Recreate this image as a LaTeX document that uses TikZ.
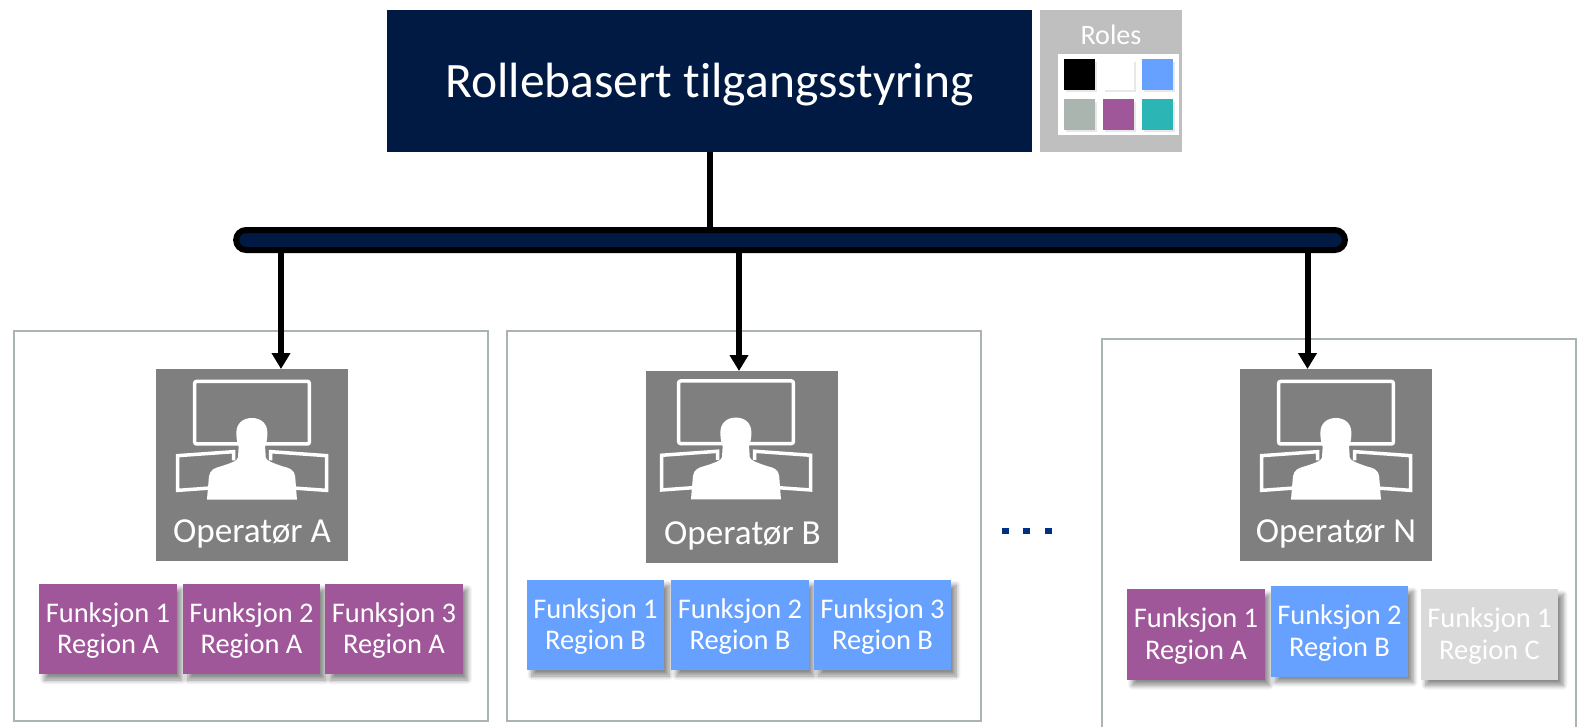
\documentclass[tikz,border=0pt]{standalone}
\usepackage{fontspec}
\setmainfont{Carlito}[Ligatures=NoCommon]
\usetikzlibrary{arrows.meta,shadows,shadows.blur}
\definecolor{navy}{HTML}{001A44}
\definecolor{dotblue}{HTML}{002F87}
\definecolor{opgray}{HTML}{7F7F7F}
\definecolor{rolegray}{HTML}{BFBFBF}
\definecolor{sage}{HTML}{AAB5B0}
\definecolor{plum}{HTML}{9F5799}
\definecolor{sky}{HTML}{66A1FF}
\definecolor{teal}{HTML}{2CB5B5}
\definecolor{pale}{HTML}{D9D9D9}
\tikzset{
  operator icon/.pic={
    % coordinates are pixels from the top left corner of the grey box
    \draw[white,line width=.07cm,rounded corners=.04cm] (39,12.7) rectangle (153.7,75.3);
    \draw[white,line width=.07cm] (55,119.3) -- (22,121.7) -- (22,87) -- (78,83) -- (78,91.7);
    \draw[white,line width=.07cm] (137,119.3) -- (171,121.7) -- (171,87) -- (115,83) -- (115,91.7);
    \fill[white] (51.3,131) -- (53.3,107.7)
      .. controls (54,101) and (60,99) .. (64,98)
      .. controls (74,95) and (82,92) .. (82.3,89)
      -- (83,78)
      .. controls (81,73) and (80.7,68) .. (80.7,64)
      .. controls (80.7,55) and (87,49.3) .. (96.2,49.3)
      .. controls (105.4,49.3) and (111.7,55) .. (111.7,64)
      .. controls (111.7,68) and (111.4,73) .. (109.4,78)
      -- (110.1,89)
      .. controls (110.4,92) and (119,95) .. (128,98)
      .. controls (133,99) and (139,101) .. (139.5,107.7)
      -- (141.3,131) -- cycle;
  }
}
\begin{document}
\begin{tikzpicture}[x=.02cm,y=-.02cm]
  \tikzstyle{title box}=[fill=navy,text=white,inner sep=0,font=\fontsize{28.2}{32}\selectfont,text height=18.6pt,text depth=0pt,minimum width=12.9cm,minimum height=2.84cm]
  \tikzstyle{roles box}=[fill=rolegray,inner sep=0,minimum width=2.84cm,minimum height=2.84cm]
  \tikzstyle{role swatch}=[inner sep=0,minimum size=.62cm,drop shadow={shadow xshift=.04cm,shadow yshift=-.05cm,opacity=.18}]
  \tikzstyle{panel}=[draw=sage,line width=.04cm,inner sep=0,minimum height=7.8cm,minimum width=9.48cm]
  \tikzstyle{operator}=[fill=opgray,inner sep=0,minimum size=3.84cm]
  \tikzstyle{operator text}=[text=white,font=\fontsize{20}{24}\selectfont]
  \tikzstyle{func box}=[text=white,align=center,inner sep=0,text depth=1pt,minimum width=2.75cm,minimum height=1.82cm,font=\fontsize{16.2}{18}\selectfont,blur shadow={shadow xshift=.1cm,shadow yshift=-.11cm,shadow blur steps=10,shadow blur radius=.09cm,shadow opacity=45}]
  \tikzstyle{drop line}=[line width=.12cm,-{Triangle[width=.36cm,length=.32cm]}]
  \tikzstyle{dot}=[fill=dotblue,inner sep=0,minimum size=.13cm]

  \useasboundingbox (0,0) rectangle (1583,727);

  \node(title)[title box] at (709.5,81){Rollebasert tilgangsstyring};
  \node(roles)[roles box] at (1111,81){};
  \node(rolestext)[text=white,font=\fontsize{16}{20}\selectfont] at (1111,35){Roles};
  \node(rolespanel)[fill=white,inner sep=0,minimum width=2.42cm,minimum height=1.62cm] at (1118.5,94.5){};
  \node(swatch1)[role swatch,fill=black] at (1079.5,74.5){};
  \node(swatch2)[role swatch,fill=white] at (1118.5,74.5){};
  \node(swatch3)[role swatch,fill=sky] at (1157.5,74.5){};
  \node(swatch4)[role swatch,fill=sage] at (1079.5,114.5){};
  \node(swatch5)[role swatch,fill=plum] at (1118.5,114.5){};
  \node(swatch6)[role swatch,fill=teal] at (1157.5,114.5){};

  \node(bus)[draw=black,fill=navy,line width=.12cm,rounded corners=.2cm,inner sep=0,minimum width=22.18cm,minimum height=.4cm] at (790.5,240){};
  \draw[line width=.12cm] (title.south) -- (title.south |- bus.north);

  \node(panelA)[panel] at (251,526){};
  \node(panelB)[panel] at (744,526){};
  \node(panelN)[panel,anchor=north west] at (1101,338){};

  \node(opA)[operator] at (252,465){};
  \node(opB)[operator] at (742,467){};
  \node(opN)[operator] at (1336,465){};
  \pic at (opA.north west) {operator icon};
  \pic at ([shift={(-6,-2.4)}]opB.north west) {operator icon};
  \pic at (opN.north west) {operator icon};
  \node(opAtext)[operator text] at (252,534){Operatør A};
  \node(opBtext)[operator text] at (742.5,536){Operatør B};
  \node(opNtext)[operator text] at (1336,534){Operatør N};

  \coordinate(tapA) at (281,369);
  \coordinate(tapB) at (739,371);
  \coordinate(tapN) at (1307.5,369);
  \draw[drop line] (bus.south -| tapA) -- (tapA);
  \draw[drop line] (bus.south -| tapB) -- (tapB);
  \draw[drop line] (bus.south -| tapN) -- (tapN);

  \node(funcA1)[func box,fill=plum] at (108,629){Funksjon 1\\Region A};
  \node(funcA2)[func box,fill=plum] at (251.5,629){Funksjon 2\\Region A};
  \node(funcA3)[func box,fill=plum] at (394,629){Funksjon 3\\Region A};
  \node(funcB1)[func box,fill=sky] at (595.5,625){Funksjon 1\\Region B};
  \node(funcB2)[func box,fill=sky] at (740,625){Funksjon 2\\Region B};
  \node(funcB3)[func box,fill=sky] at (882.5,625){Funksjon 3\\Region B};
  \node(funcN1)[func box,fill=plum] at (1196,634.5){Funksjon 1\\Region A};
  \node(funcN2)[func box,fill=sky] at (1339.5,631.5){Funksjon 2\\Region B};
  \node(funcN3)[func box,fill=pale] at (1489.5,634.5){Funksjon 1\\Region C};

  \node(dot1)[dot] at (1005.7,531){};
  \node(dot2)[dot] at (1026.7,531){};
  \node(dot3)[dot] at (1048.3,531){};
\end{tikzpicture}
\end{document}
